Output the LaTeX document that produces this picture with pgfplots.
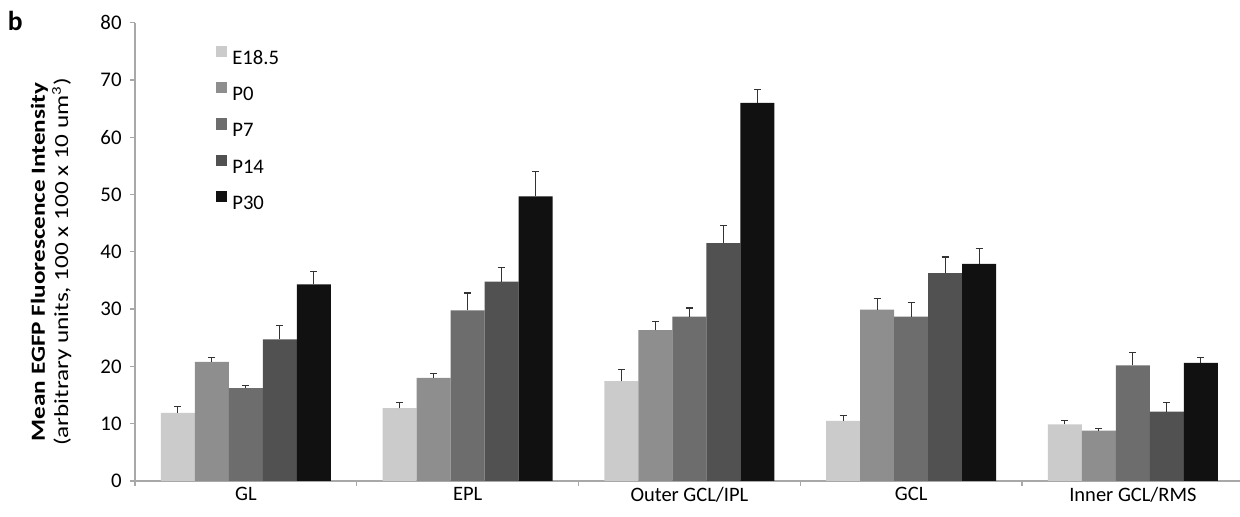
\documentclass[border=0pt]{standalone}
\usepackage{graphicx}
\usepackage{pgfplots}
\pgfplotsset{compat=1.18}
\usepackage{pgfplotstable}
\usepackage{fontspec}
\setmainfont{Carlito}
\definecolor{cA}{HTML}{CBCBCB}
\definecolor{cB}{HTML}{8E8E8E}
\definecolor{cC}{HTML}{6D6D6D}
\definecolor{cD}{HTML}{515151}
\definecolor{cE}{HTML}{111111}
\definecolor{axgray}{HTML}{A8A8A8}

% x: 0 GL, 1 EPL, 2 Outer GCL/IPL, 3 GCL, 4 Inner GCL/RMS
\pgfplotstableread{
x y e
0 11.9 1.1
1 12.7 1.0
2 17.45 2.05
3 10.5 1.0
4 9.9 0.6
}\tE
\pgfplotstableread{
x y e
0 20.8 0.8
1 18.0 0.8
2 26.35 1.45
3 29.9 2.0
4 8.8 0.3
}\tPa
\pgfplotstableread{
x y e
0 16.2 0.4
1 29.8 3.0
2 28.7 1.5
3 28.7 2.4
4 20.2 2.2
}\tPb
\pgfplotstableread{
x y e
0 24.7 2.4
1 34.8 2.5
2 41.5 3.1
3 36.3 2.8
4 12.1 1.6
}\tPc
\pgfplotstableread{
x y e
0 34.3 2.2
1 49.7 4.3
2 66.0 2.4
3 37.9 2.7
4 20.6 1.0
}\tPd

\begin{document}
\begin{tikzpicture}
\useasboundingbox (-81pt,-21.6pt) rectangle (663pt,288.6pt);
\begin{axis}[
  at={(0,0)}, anchor=south west,
  scale only axis, width=663pt, height=275pt,
  xmin=-0.5, xmax=4.483, ymin=0, ymax=80,
  ybar=0pt, bar width=20.4pt,
  axis lines*=left,
  axis line style={draw=axgray, line width=0.8pt},
  tick align=outside,
  major tick length=3pt,
  tick style={draw=axgray, line width=0.8pt},
  ytick={0,10,...,80},
  xtick={-0.5,0.5,1.5,2.5,3.5},
  xticklabels={},
  extra x ticks={0,1,2,3,4},
  extra x tick labels={GL,EPL,Outer GCL/IPL,GCL,Inner GCL/RMS},
  extra x tick style={major tick length=0pt, tick style={draw=none}},
  /pgf/number format/assume math mode=true,
  yticklabel style={font=\fontsize{12.5pt}{13pt}\selectfont, xshift=-1.5pt},
  xticklabel style={font=\fontsize{12.3pt}{14pt}\selectfont},
  ylabel={\scalebox{1.26}[1]{\bfseries Mean EGFP Fluorescence Intensity}\\\scalebox{1.26}[1]{(arbitrary units, 100 x 100 x 10 um\textsuperscript{3})}},
  ylabel style={at={(axis description cs:-0.076,0.478)}, anchor=center, align=center, font=\fontsize{12pt}{14pt}\selectfont},
  error bars/y dir=plus, error bars/y explicit,
  error bars/error bar style={color=black!80, line width=0.7pt},
  error bars/error mark options={rotate=90, mark size=2.1pt, line width=0.7pt, color=black!80},
  legend style={at={(axis description cs:0.0733,0.950)}, anchor=north west,
    draw=none, fill=none, inner sep=0pt, outer sep=0pt,
    font=\fontsize{12.4pt}{14pt}\selectfont,
    row sep=10.6pt, column sep=3pt,
    nodes={inner sep=0pt, text height=8pt, text depth=0pt}},
  legend cell align=left,
  legend image code/.code={\fill[#1,draw=none] (0pt,0.4pt) rectangle (6.8pt,7.2pt);},
]
\addplot[fill=cA, draw=none] table[x=x,y=y,y error=e]{\tE};
\addplot[fill=cB, draw=none] table[x=x,y=y,y error=e]{\tPa};
\addplot[fill=cC, draw=none] table[x=x,y=y,y error=e]{\tPb};
\addplot[fill=cD, draw=none] table[x=x,y=y,y error=e]{\tPc};
\addplot[fill=cE, draw=none] table[x=x,y=y,y error=e]{\tPd};
\legend{E18.5,P0,P7,P14,P30}
\end{axis}
\node[font=\bfseries\fontsize{16.5pt}{16.5pt}\selectfont, anchor=base west, inner sep=0pt] at (-76.5pt,270pt) {b};
\end{tikzpicture}
\end{document}
